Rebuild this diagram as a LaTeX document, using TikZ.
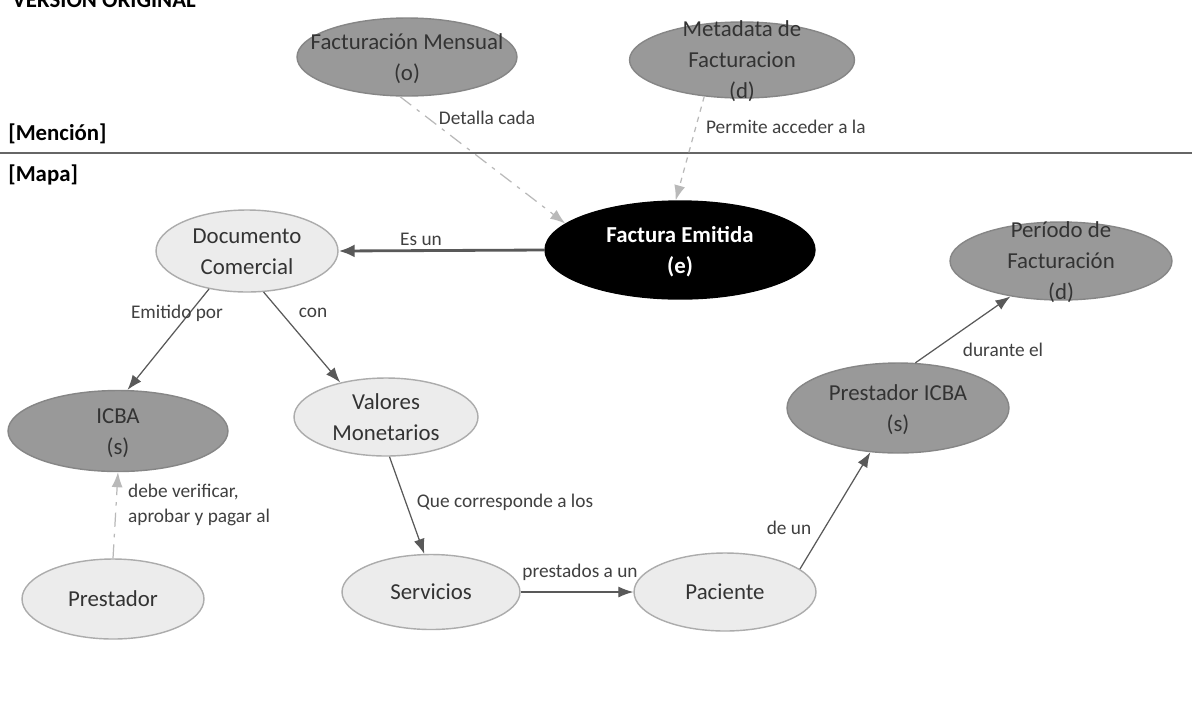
\documentclass[tikz,border=0pt]{standalone}
\usepackage{fontspec}
\setmainfont{Carlito}
\usetikzlibrary{shapes.geometric,arrows.meta}

% texto centrado que no agranda la elipse
\newcommand{\lineas}[1]{\makebox[0pt]{\raisebox{-0.3em}[0pt][0pt]{\begin{tabular}{@{}c@{}}#1\end{tabular}}}}

\tikzset{
  concepto/.style={ellipse, draw=gray!65, line width=0.8pt, fill=gray!15, inner sep=0pt,
    text=black!80, font=\fontsize{13}{17.6}\selectfont},
  oscuro/.style={concepto, fill=gray!80, draw=gray!95},
  enlace/.style={draw=black!65, line width=0.7pt, -{Latex[length=3mm,width=2.2mm]}},
  etiqueta/.style={font=\fontsize{11}{14}\selectfont, text=black!75, inner sep=1pt},
  seccion/.style={font=\fontsize{13}{16}\selectfont\bfseries, anchor=base west, inner sep=0pt},
}

\begin{document}
\begin{tikzpicture}[x=0.02cm, y=-0.02cm]
        \useasboundingbox (0,0) rectangle (1192,707);
        \fill[white] (0,0) rectangle (1192,707);

        % Encabezados
        \node[seccion] (titulo) at (12,7) {VERSION ORIGINAL};
        \node[seccion] (mencion) at (8,140) {[Mención]};
        \node[seccion] (mapa) at (8,181) {[Mapa]};
        \draw[black!60, line width=1.2pt] (0,153) -- (1192,153);

        % Mencion
        \node[oscuro, minimum width=4.4cm, minimum height=1.56cm] (mensual) at (407,57)
            {\lineas{Facturación Mensual\\(o)}};
        \node[oscuro, minimum width=4.5cm, minimum height=1.52cm] (metadata) at (742,60)
            {\lineas{Metadata de\\Facturacion\\(d)}};

        % Mapa
        \node[concepto, fill=black, draw=black, text=white, minimum width=5.4cm, minimum height=1.96cm,
            font=\fontsize{13}{17.6}\selectfont\bfseries] (factura) at (680,250)
            {\lineas{Factura Emitida\\(e)}};
        \node[concepto, minimum width=3.64cm, minimum height=1.64cm] (documento) at (247,251)
            {\lineas{Documento\\Comercial}};
        \node[oscuro, minimum width=4.4cm, minimum height=1.62cm] (icba) at (118,431)
            {\lineas{ICBA\\(s)}};
        \node[concepto, minimum width=3.68cm, minimum height=1.56cm] (valores) at (386,417)
            {\lineas{Valores\\Monetarios}};
        \node[concepto, minimum width=3.64cm, minimum height=1.6cm] (prestador) at (113,599)
            {\lineas{Prestador}};
        \node[concepto, minimum width=3.56cm, minimum height=1.5cm] (servicios) at (431,592)
            {\lineas{Servicios}};
        \node[concepto, minimum width=3.64cm, minimum height=1.56cm] (paciente) at (725,592)
            {\lineas{Paciente}};
        \node[oscuro, minimum width=4.44cm, minimum height=1.8cm] (prestadoricba) at (898,408)
            {\lineas{Prestador ICBA\\(s)}};
        \node[oscuro, minimum width=4.44cm, minimum height=1.56cm] (periodo) at (1061,261)
            {\lineas{Período de\\Facturación\\(d)}};

        % Enlaces
        \draw[enlace, draw=gray!55, dash pattern=on 8pt off 4pt on 2pt off 4pt] (mensual.260) -- (factura.167);
        \node[etiqueta] (detalla) at (487,118) {Detalla cada};
        \draw[enlace, draw=gray!55, dashed] (metadata.224) -- (factura.95);
        \node[etiqueta, anchor=west] (permite) at (704,127) {Permite acceder a la};
        \draw[enlace, line width=1.6pt, -{Latex[length=3.2mm,width=2.6mm]}] (factura.west) -- (documento.east);
        \node[etiqueta] (esun) at (421,239) {Es un};
        \draw[enlace] (documento.225) -- (icba.77);
        \node[etiqueta] (emitido) at (177,313) {Emitido por};
        \draw[enlace] (documento.292) -- (valores.143);
        \node[etiqueta] (con) at (313,313) {con};
        \draw[enlace, draw=gray!55, dash pattern=on 8pt off 4pt on 2pt off 4pt] (prestador.north) -- (icba.south);
        \node[etiqueta, anchor=west, align=left] (verificar) at (126,505) {debe verificar,\\aprobar y pagar al};
        \draw[enlace] (valores.275) -- (servicios.100);
        \node[etiqueta] (corresponde) at (505,502) {Que corresponde a los};
        \draw[enlace] (servicios.east) -- (paciente.west);
        \node[etiqueta] (prestados) at (580,572) {prestados a un};
        \draw[enlace] (paciente.17) -- (prestadoricba.238);
        \node[etiqueta] (deun) at (789,528) {de un};
        \draw[enlace] (prestadoricba.69) -- (periodo.215);
        \node[etiqueta] (durante) at (1003,350) {durante el};
\end{tikzpicture}
\end{document}
